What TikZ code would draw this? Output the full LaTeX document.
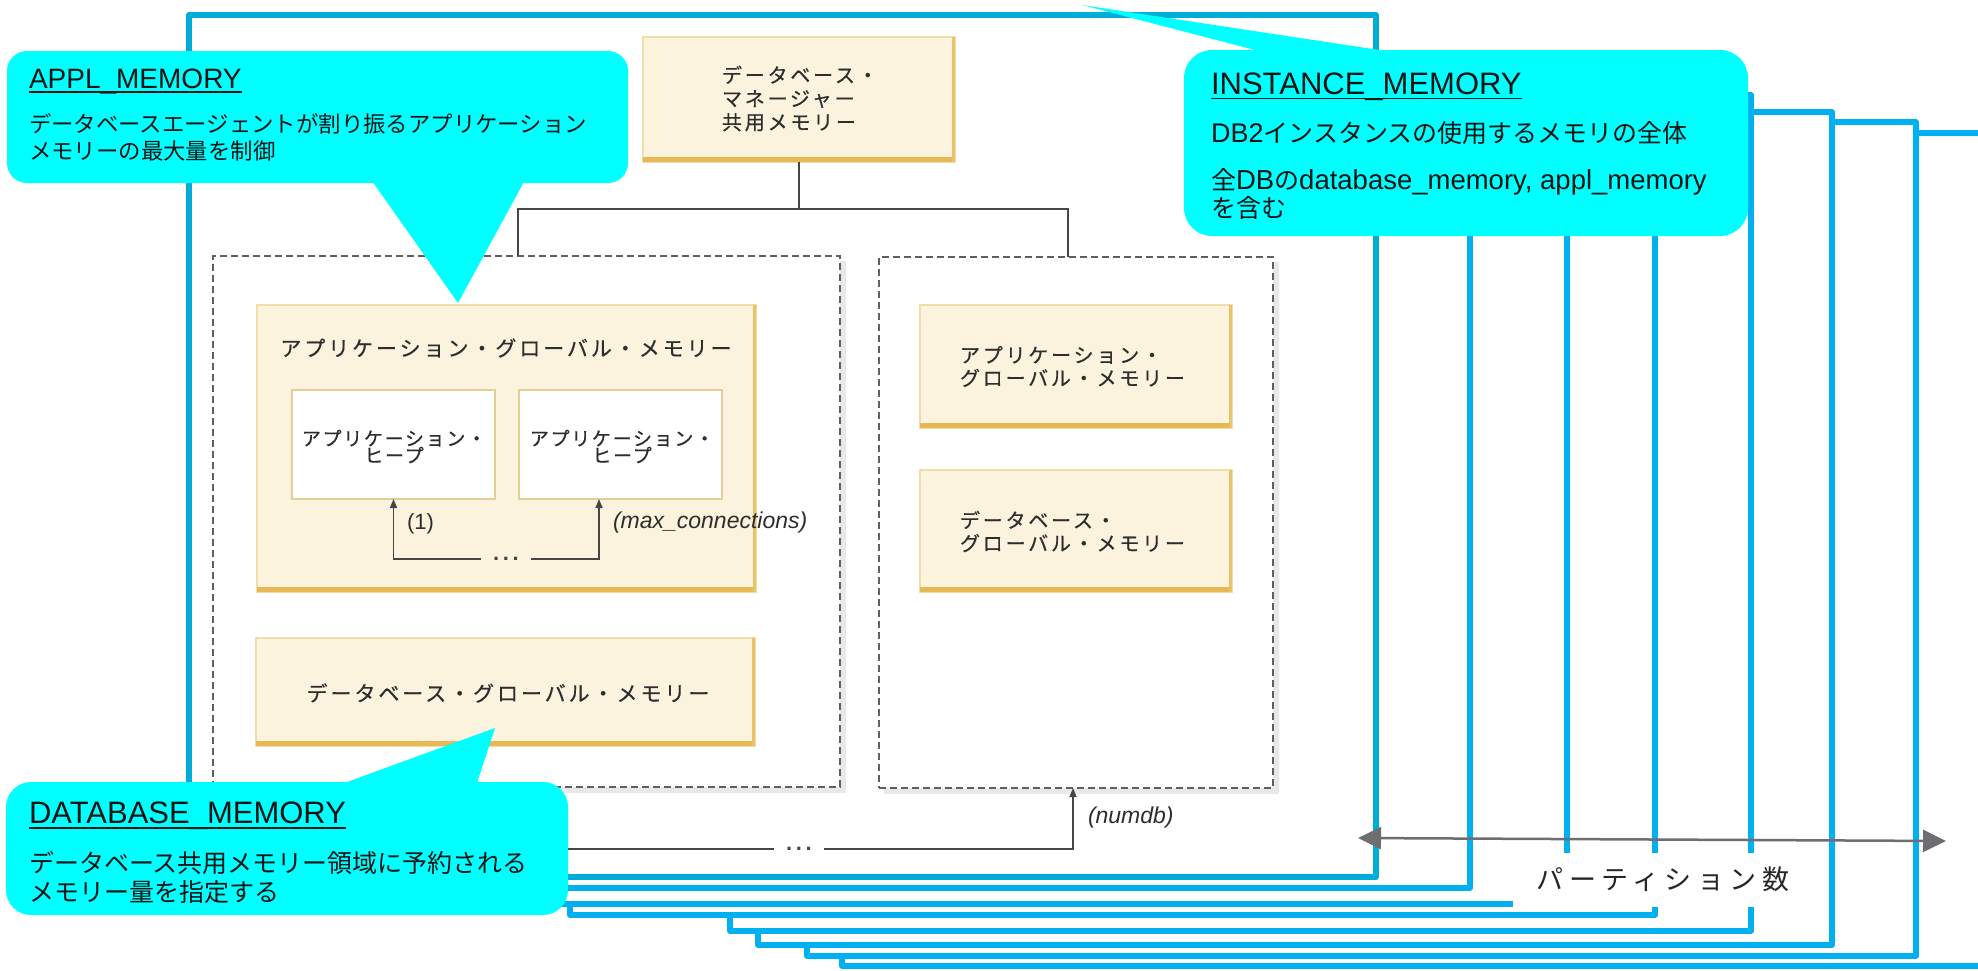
\documentclass[tikz,border=0pt]{standalone}
\usepackage{fontspec}
\setmainfont{Liberation Sans}
\newfontfamily\jp{Noto Sans CJK JP}
\newfontfamily\jpw{Noto Sans CJK JP}[LetterSpace=14,FakeBold=0.5]
\newfontfamily\jph{Noto Sans CJK JP}[LetterSpace=9,FakeBold=0.5]
\newfontfamily\jpl{Noto Sans CJK JP}[LetterSpace=20]
\usetikzlibrary{arrows.meta}
\definecolor{frontblue}{RGB}{0,173,216}
\definecolor{backblue}{RGB}{0,176,240}
\definecolor{callcyan}{RGB}{0,255,255}
\definecolor{ycream}{RGB}{251,243,222}
\definecolor{yedge}{RGB}{240,222,168}
\definecolor{ygold}{RGB}{232,184,84}
\definecolor{heapedge}{RGB}{228,206,150}
\definecolor{dashgray}{RGB}{95,95,95}
\definecolor{shadowgray}{RGB}{232,232,232}
\definecolor{conngray}{RGB}{70,70,70}
\definecolor{ibmtext}{RGB}{45,45,45}
\definecolor{arrowgray}{RGB}{110,110,112}
\definecolor{calltext}{RGB}{20,20,20}
\newcommand\jt[1]{{\jp\fontsize{25}{28}\selectfont #1}}
\newcommand\goldedge[1]{%
  \draw[ygold,line width=5pt] ([yshift=2.5pt]#1.south west) -- ([yshift=2.5pt]#1.south east);
  \draw[ygold!75!yedge,line width=3pt] ([xshift=-1.5pt]#1.south east) -- ([xshift=-1.5pt]#1.north east);}
\tikzset{
  partframe/.style={draw=backblue, fill=white, line width=5.5pt, line join=round},
  dbox/.style={draw=dashgray, fill=white, line width=1.4pt, dash pattern=on 7pt off 4pt, anchor=north west},
  ybox/.style={draw=yedge, fill=ycream, line width=2.5pt, anchor=north west},
  hbox/.style={draw=heapedge, fill=white, line width=1.5pt, anchor=north west},
  conn/.style={draw=conngray, line width=1.6pt},
  uparrow/.style={-{Triangle[length=9pt,width=7pt]}},
  ibm/.style={text=ibmtext, align=left},
  callfill/.style={fill=callcyan},
  ttl/.style={anchor=base west, text=calltext},
}
\begin{document}
\begin{tikzpicture}[x=1pt,y=-1pt, every node/.style={inner sep=0pt, outer sep=0pt}]
\useasboundingbox (0,0) rectangle (1978,970);
\fill[white] (0,0) rectangle (1978,970);

% stacked partition frames (back to front)
\foreach \xa/\ya/\xb/\yb in {842/133/2010/966, 807/122/1916/956, 758/112/1832/945, 730/95/1751/931, 570/82/1655/915, 540/68/1567/904, 400/55/1470/888}{
  \path[partframe] (\xa,\ya) rectangle (\xb,\yb);
}
\path[partframe, draw=frontblue] (189,15) rectangle (1376,877);

% dashed containers with shadows
\fill[shadowgray] (218,261) rectangle (846,793);
\node[dbox, minimum width=627pt, minimum height=531pt] (ldash) at (213,256) {};
\fill[shadowgray] (884,262) rectangle (1279,794);
\node[dbox, minimum width=394pt, minimum height=531pt] (rdash) at (879,257) {};

% yellow boxes
\node[ybox, minimum width=312pt, minimum height=125pt] (dbm) at (643,37) {};
\goldedge{dbm}
\node[ybox, minimum width=499pt, minimum height=287pt] (agm) at (257,305) {};
\goldedge{agm}
\node[hbox, minimum width=203pt, minimum height=109pt] (heapA) at (292,390) {};
\node[hbox, minimum width=203pt, minimum height=109pt] (heapB) at (519,390) {};
\node[ybox, minimum width=499pt, minimum height=108pt] (dgm) at (256,638) {};
\goldedge{dgm}
\node[ybox, minimum width=312pt, minimum height=123pt] (ragm) at (920,305) {};
\goldedge{ragm}
\node[ybox, minimum width=312pt, minimum height=122pt] (rdgm) at (920,470) {};
\goldedge{rdgm}

% texts of the memory boxes
\node[ibm, anchor=west, font=\jpw\fontsize{20}{23.5}\selectfont] (dbmT) at (722,98.5) {データベース・\\マネージャー\\共用メモリー};
\node[ibm, font=\jpw\fontsize{21}{21}\selectfont] (agmT) at (506,348) {アプリケーション・グローバル・メモリー};
\node[ibm, align=center, font=\jph\fontsize{19}{17}\selectfont] (heapAT) at (394,446.5) {アプリケーション・\\ヒープ};
\node[ibm, align=center, font=\jph\fontsize{19}{17}\selectfont] (heapBT) at (622,446.5) {アプリケーション・\\ヒープ};
\node[ibm, font=\jpw\fontsize{21}{21}\selectfont] (dgmT) at (508,693) {データベース・グローバル・メモリー};
\node[ibm, anchor=west, font=\jpw\fontsize{20}{23}\selectfont] (ragmT) at (960,366.5) {アプリケーション・\\グローバル・メモリー};
\node[ibm, anchor=west, font=\jpw\fontsize{20}{23}\selectfont] (rdgmT) at (960,531.5) {データベース・\\グローバル・メモリー};

% tree connector from the database manager box
\coordinate (jl) at (518,209);
\coordinate (jr) at (1068,209);
\draw[conn] (dbm.south) -- (dbm.south |- jl);
\draw[conn] (jl |- ldash.north) -- (jl) -- (jr) -- (jr |- rdash.north);

% heap connectors
\node[minimum width=50pt, text=conngray, font=\bfseries\fontsize{22}{22}\selectfont] (dots1) at (506,559) {.\,.\,.};
\draw[conn, uparrow] (dots1.west) -| (heapA.south);
\draw[conn, uparrow] (dots1.east) -| ([xshift=-21.5pt]heapB.south);
\node[anchor=west, text=ibmtext, font=\fontsize{22}{22}\selectfont] (one) at (407,524) {(1)};
\node[anchor=west, text=ibmtext, font=\itshape\fontsize{23}{23}\selectfont] (maxc) at (613,523) {(max\_connections)};

% database connector
\node[minimum width=50pt, text=conngray, font=\bfseries\fontsize{22}{22}\selectfont] (dots2) at (799,849) {.\,.\,.};
\draw[conn] (ldash.south) |- (dots2.west);
\draw[conn, uparrow] (dots2.east) -| ([xshift=-3pt]rdash.south);
\node[anchor=west, text=ibmtext, font=\itshape\fontsize{23}{23}\selectfont] (numdb) at (1088,818) {(numdb)};

% partition count label and arrow
\node[fill=white, minimum width=300pt, minimum height=54pt, text=black!85, font=\jpl\fontsize{27}{27}\selectfont] (plabel) at (1663,879.5) {パーティション数};
\coordinate (pl) at (1358,838);
\coordinate (pr) at (1946,841);
\draw[arrowgray, line width=2.5pt, {Triangle[length=23pt,width=22pt]}-{Triangle[length=23pt,width=22pt]}] (pl) -- (pr);

% APPL_MEMORY callout
\fill[callfill, rounded corners=20pt] (7,51) rectangle (628,183);
\fill[callfill] (370,178) -- (526,178) -- (458,303) -- cycle;
\node[ttl, font=\fontsize{28}{28}\selectfont] (applT) at (29,88) {APPL\_MEMORY};
\draw[calltext, line width=1.5pt] ([yshift=-4pt]applT.base west) -- ([yshift=-4pt]applT.base east);
\node[anchor=west, align=left, text=calltext, font=\jp\fontsize{22.4}{27}\selectfont] (applB) at (29,137.5) {データベースエージェントが割り振るアプリケーション\\メモリーの最大量を制御};

% INSTANCE_MEMORY callout
\fill[callfill, rounded corners=28pt] (1184,50) rectangle (1748,236);
\fill[callfill] (1082,5) -- (1419,56) -- (1278,56) -- cycle;
\node[ttl, font=\fontsize{31}{31}\selectfont] (instT) at (1211,94) {INSTANCE\_MEMORY};
\draw[calltext, line width=1.6pt] ([yshift=-4.5pt]instT.base west) -- ([yshift=-4.5pt]instT.base east);
\node[anchor=west, text=calltext, font=\fontsize{27}{28}\selectfont] (instB1) at (1211,133) {DB2\jt{インスタンスの使用するメモリの全体}};
\node[anchor=west, align=left, text=calltext, font=\fontsize{27.5}{28}\selectfont] (instB2) at (1211,194) {\jt{全}DB\jt{の}database\_memory, appl\_memory\\\jt{を含む}};

% DATABASE_MEMORY callout
\fill[callfill, rounded corners=25pt] (6,782) rectangle (568,915);
\fill[callfill] (336,786) -- (476,786) -- (495,728) -- cycle;
\node[ttl, font=\fontsize{31}{31}\selectfont] (dbT) at (29,823) {DATABASE\_MEMORY};
\draw[calltext, line width=1.6pt] ([yshift=-5pt]dbT.base west) -- ([yshift=-5pt]dbT.base east);
\node[anchor=west, align=left, text=calltext, font=\jp\fontsize{25}{29}\selectfont] (dbB) at (29,877.5) {データベース共用メモリー領域に予約される\\メモリー量を指定する};
\end{tikzpicture}
\end{document}
